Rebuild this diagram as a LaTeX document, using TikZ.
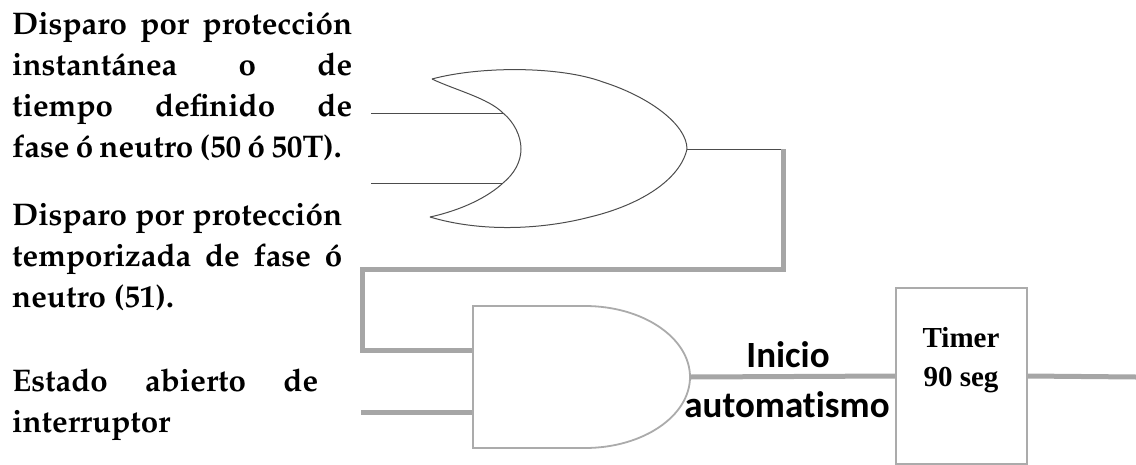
\documentclass[tikz,border=0pt]{standalone}
\usepackage[T1]{fontenc}
\usepackage{fontspec}
\newfontfamily\gatefont[Ligatures=NoCommon]{Carlito}
\newfontfamily\timerfont{Liberation Serif}
\newcommand{\inputfont}{\fontencoding{T1}\fontfamily{ppl}\fontseries{b}\selectfont\fontsize{31.3}{41}\selectfont}
\tikzset{
thinwire/.style={line width=1pt,color=black!70},
widewire/.style={line width=5pt,color=black!35,line join=miter},
gateline/.style={line width=1.8pt,color=black!33},
inputtext/.style={anchor=north west,inner sep=0pt,align=left,font=\inputfont},
}
\begin{document}
\begin{tikzpicture}[x=1pt,y=-1pt]
\useasboundingbox (0,0) rectangle (1136,464);
\coordinate (ortop) at (432,79);
\coordinate (orbot) at (430,217);
\coordinate (orout) at (687,149);
\coordinate (orina) at (503,113);
\coordinate (orinb) at (503,183);
\coordinate (orback) at (521,149);
\coordinate (wirea) at (371,113);
\coordinate (wireb) at (371,183);
\coordinate (bendr) at (783,149);
\coordinate (bendd) at (783,269);
\coordinate (bendl) at (362,269);
\coordinate (bendu) at (362,350);
\coordinate (andina) at (473,350);
\coordinate (andinb) at (473,412);
\coordinate (wirec) at (361,412);
\coordinate (andout) at (690,377);
\coordinate (endout) at (1136,377);
\draw[thinwire] (ortop) .. controls (480,66) and (560,66) .. (603,82) .. controls (650,97) and (687,125) .. (orout);
\draw[thinwire] (orout) .. controls (680,180) and (640,205) .. (590,217) .. controls (540,230) and (480,232) .. (orbot);
\draw[thinwire] (ortop) .. controls (455,90) and (488,98) .. (orina) .. controls (514,122) and (521,136) .. (orback) .. controls (521,162) and (514,174) .. (orinb) .. controls (488,197) and (462,210) .. (orbot);
\draw[thinwire] (wirea) -- (orina);
\draw[thinwire] (wireb) -- (orinb);
\draw[thinwire] (orout) -- (bendr);
\draw[widewire] (bendr) -- (bendd) -- (bendl) -- (bendu) -- (andina);
\draw[widewire] (wirec) -- (andinb);
\draw[gateline] (473,306) -- (585,306) .. controls (643,306) and (690,338) .. (andout) .. controls (690,416) and (643,448) .. (585,448) -- (473,448) -- cycle;
\node[draw=black!33,line width=1.8pt,minimum width=131pt,minimum height=176pt] (timer) at (961.5,376) {};
\draw[widewire] (andout) -- (timer.west);
\draw[widewire] (timer.east) -- (endout);
\node[anchor=base,inner sep=0pt,font=\timerfont\bfseries\fontsize{29}{39}\selectfont,align=center] (timerlabel) at (961,386) {Timer\\90 seg};
\node[anchor=base,inner sep=0pt,font=\gatefont\bfseries\fontsize{37}{40}\selectfont] (inicio) at (788,367) {Inicio};
\node[anchor=base,inner sep=0pt,font=\gatefont\bfseries\fontsize{37}{40}\selectfont] (automatismo) at (787,417) {automatismo};
\node[inputtext] (instant) at (12,12) {\makebox[340pt][s]{Disparo por protección}\\\makebox[340pt][s]{instantánea o de}\\\makebox[340pt][s]{tiempo definido de}\\\makebox[340pt][l]{\spaceskip=0.2em\relax fase ó neutro (50 ó 50T).}};
\node[inputtext] (tempor) at (12,203) {\makebox[330pt][s]{Disparo por protección}\\\makebox[330pt][s]{temporizada de fase ó}\\neutro (51).};
\node[inputtext] (estado) at (12,369) {\makebox[306pt][s]{Estado abierto de}\\interruptor};
\end{tikzpicture}
\end{document}
